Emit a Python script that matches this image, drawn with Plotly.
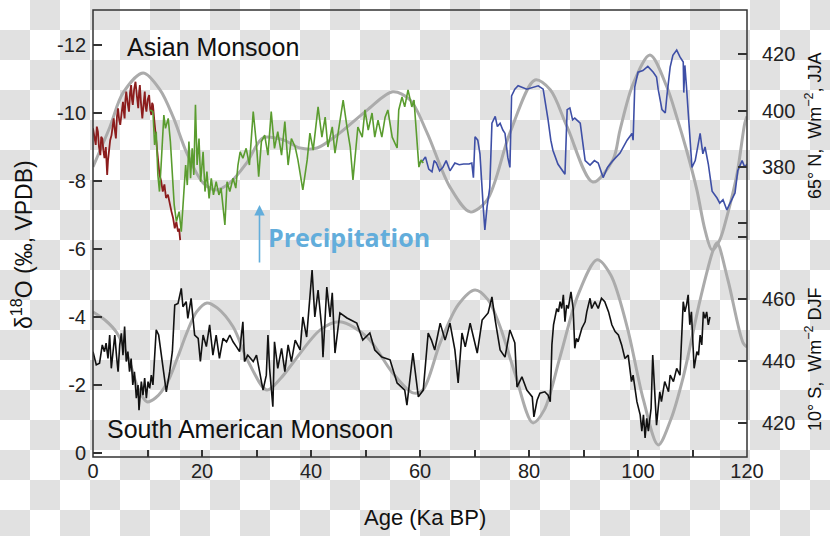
import plotly.graph_objects as go

# ---------------- data ----------------
# Asian monsoon, Holocene-deglacial record (dark red)
red_age = [0, 0.25, 0.5, 0.7, 0.9, 1.1, 1.35, 1.5, 1.7, 1.9, 2.1, 2.35, 2.6, 2.75, 2.9, 3.15, 3.4, 3.6,
           3.8, 4.0, 4.2, 4.4, 4.6, 4.8, 5.0, 5.25, 5.5, 5.65, 5.8, 5.95, 6.1, 6.35, 6.6, 6.8, 7.0, 7.15,
           7.3, 7.55, 7.8, 8.05, 8.3, 8.45, 8.6, 8.8, 9.05, 9.3, 9.5, 9.65, 9.8, 10.05, 10.3, 10.5, 10.7,
           10.85, 11.0, 11.3, 11.6, 11.9, 12.2, 12.5, 12.8, 13.1, 13.4, 13.75, 14.1, 14.4, 14.7, 15.0,
           15.3, 15.6, 15.8, 16.0]
red_d18o = [-9.55, -9.3, -9.06, -9.6, -9.45, -9.0, -8.76, -9.3, -9.25, -8.9, -8.67, -9.0, -8.18, -8.6,
            -8.86, -9.2, -9.35, -9.7, -9.84, -9.5, -9.25, -9.9, -10.14, -9.8, -9.65, -10.0, -10.33,
            -10.05, -9.84, -10.4, -10.63, -10.3, -10.04, -10.6, -10.82, -10.4, -10.24, -10.7, -10.92,
            -10.5, -10.14, -10.6, -10.82, -10.3, -9.84, -10.3, -10.63, -10.2, -10.04, -10.4, -10.53,
            -10.1, -9.94, -10.3, -10.24, -9.7, -9.16, -8.7, -8.18, -8.0, -7.69, -7.9, -7.5, -7.6, -7.30,
            -7.1, -6.91, -6.61, -6.8, -6.51, -6.6, -6.26]

# Asian monsoon, glacial record (green)
green_age = [10.5, 11.0, 11.3, 11.6, 11.9, 12.2, 12.5, 13.0, 13.3, 13.8, 14.2, 14.6, 14.9, 15.3, 15.8,
             16.2, 16.6, 17.0, 17.3, 17.6, 17.9, 18.2, 18.5, 18.8, 19.1, 19.45, 19.75, 20.2, 20.55,
             20.9, 21.3, 21.7, 22.1, 22.6, 23.1, 23.5, 24.2, 24.6, 25.1, 25.7, 26.2, 26.6, 27.0, 27.5,
             28.1, 28.7, 29.4, 30.0, 30.4, 30.9, 31.5, 32.1, 32.7, 33.3, 33.9, 34.6, 35.2, 35.8, 36.4,
             37.1, 37.6, 38.5, 39.3, 39.8, 40.4, 41.1, 41.3, 42.0, 42.6, 43.1, 43.9, 44.4, 45.0, 45.9,
             46.6, 47.2, 47.7, 48.3, 48.6, 49.4, 49.9, 50.5, 51.2, 51.7, 52.3, 53.0, 53.6, 54.1, 54.9,
             55.8, 56.1, 56.7, 57.2, 57.8, 58.5, 58.9, 59.3, 59.5, 59.8, 60.2, 60.6]
green_d18o = [-10.09, -10.04, -9.06, -9.45, -8.18, -7.69, -8.47, -9.94, -9.55, -9.84, -9.16, -8.08,
              -7.30, -6.81, -7.10, -6.51, -7.69, -8.47, -7.88, -9.16, -8.08, -8.96, -8.18, -10.24,
              -8.47, -9.25, -7.98, -8.86, -7.69, -8.28, -7.49, -8.08, -7.59, -7.98, -7.59, -7.79, -6.71,
              -7.98, -7.69, -8.08, -7.79, -8.47, -8.86, -8.67, -8.96, -8.47, -10.04, -9.06, -8.13,
              -9.16, -9.35, -8.76, -10.04, -8.96, -9.45, -8.76, -9.75, -8.47, -9.25,
              -9.0, -8.62, -7.74, -8.62, -9.41, -8.91, -10.0, -10.18, -9.29, -9.88, -9.0, -9.59, -8.82,
              -9.41, -10.38, -9.59, -9.0, -8.03, -9.0, -9.59, -9.29, -10.09, -9.5, -10.0, -9.29, -9.79,
              -9.29, -9.88, -10.09, -9.29, -8.97, -10.09, -10.47, -10.18, -10.68, -10.18, -10.38,
              -9.59, -9.0, -8.41, -8.62, -8.53]

# Asian monsoon, older record (blue)
blue_age = [59.8, 60.5, 61.0, 61.6, 62.2, 62.6, 63.0, 63.6, 64.2, 64.8, 65.5, 66.0, 66.4, 67.2, 68.0,
            69.0, 69.5, 69.8, 70.1, 70.6, 71.0, 71.6, 71.9, 72.3, 72.8, 73.2, 73.8, 74.2, 74.7, 75.2,
            75.6, 76.1, 76.5, 76.8, 77.4, 78.0, 79.6, 81.7, 82.6, 83.5, 84.0, 84.4, 85.3, 86.6, 87.0,
            87.5, 88.0, 88.4, 89.4, 90.3, 91.2, 92.0, 92.7, 93.6, 94.4, 95.4, 96.7, 98.0, 98.9, 99.1,
            99.4, 100.0, 100.9, 101.8, 102.8, 103.4, 103.7, 104.4, 105.0, 105.3, 105.9, 106.4, 107.1,
            107.7, 108.3, 108.4, 108.6, 108.9, 109.5, 109.9, 110.5, 111.0, 111.4, 111.9, 112.3, 112.9,
            113.6, 114.5, 115.0, 115.6, 116.3, 116.9, 117.8, 118.3, 119.1, 119.6, 120.0]
blue_d18o = [-8.53, -8.6, -8.71, -8.35, -8.27, -8.6, -8.53, -8.3, -8.4, -8.6, -8.3, -8.45, -8.53, -8.48,
             -8.5, -8.5, -8.53, -8.1, -9.3, -9.2, -8.8, -7.24, -6.56, -7.24, -7.8, -9.7, -9.9, -9.6, -9.7,
             -9.5, -9.4, -8.7, -8.4, -10.5, -10.7, -10.8, -10.7, -10.8, -10.7, -9.8, -9.2, -8.9, -8.5,
             -8.2, -10.1, -10.15, -9.8, -9.85, -9.7, -8.6, -8.47, -8.6, -8.53, -8.1, -8.4, -8.6, -8.82,
             -9.2, -9.4, -9.2, -10.76, -11.2, -11.25, -11.37, -11.2, -11.06, -10.7, -10.1, -10.0, -10.5,
             -11.35, -11.7, -11.85, -11.65, -11.5, -10.6, -11.4, -10.76, -9.5, -8.4, -8.6, -9.0, -9.4,
             -8.8, -9.0, -8.5, -7.7, -7.5, -7.35, -7.45, -7.15, -7.35, -7.65, -8.3, -8.6, -8.4, -8.5]

# South American monsoon record (black)
sa_age = [0, 0.6, 1.2, 1.7, 2.1, 2.4, 2.75, 3.06, 3.36, 3.7, 4.0, 4.3, 4.6, 4.9, 5.2, 5.5, 5.8, 6.1,
          6.4, 6.7, 7.0, 7.3, 7.6, 7.95, 8.26, 8.44, 8.87, 9.17, 9.48, 9.79, 10.1, 10.4, 10.7, 11.0,
          11.3, 11.6, 12.05, 12.5, 13.0, 13.45, 14.07, 14.56, 15.0, 15.6, 16.2, 16.5, 17.1, 17.4, 18.0,
          18.65, 19.3, 19.7, 20.2, 20.8, 21.4, 22.0, 22.6, 23.2, 23.85, 24.5, 25.1, 25.7, 26.3, 26.9,
          27.5, 27.8, 28.4, 29.4, 30.0, 30.6, 31.2, 31.8, 32.1, 32.4, 33.0, 33.3, 33.9, 34.6, 35.2,
          35.8, 36.4,
          37.1, 38.0, 38.5, 39.2, 40.2, 40.7, 41.3, 42.0, 42.2, 42.9, 43.5, 43.9, 44.4, 45.3, 46.6,
          48.4, 49.5, 50.8, 51.7, 53.0, 54.5, 55.8, 57.2, 57.6, 58.7, 59.7, 60.6, 61.5, 62.1, 62.7,
          63.7, 64.6, 65.5, 66.4, 67.0, 67.7, 68.3, 69.2, 70.5, 71.4, 72.5, 73.2, 73.8, 74.7, 75.6,
          76.5, 77.4, 77.8, 78.7, 79.6, 80.6, 80.9, 81.5, 82.0,
          82.9, 83.5, 83.9, 84.2, 84.5, 85.1, 85.4, 85.7, 86.0, 86.3, 86.6, 86.9, 87.2, 87.7, 88.1,
          88.4, 88.7, 89.0, 89.7, 90.3, 90.6, 91.2, 91.5, 92.1, 92.7, 93.3, 93.9, 94.6, 95.2, 95.8,
          96.4, 97.0, 97.6, 98.2, 98.8, 99.1, 99.8, 100.4, 100.7, 101.0, 101.3, 101.6, 101.9, 102.4,
          102.7, 103.1, 103.4, 103.7, 104.0, 104.3, 104.9, 105.6, 105.9, 106.5, 107.1, 107.7, 108.0,
          108.3, 108.6, 108.9, 109.2, 109.5, 109.8, 110.3, 110.8, 111.1, 111.4, 111.7, 112.0, 112.3,
          112.6, 112.9, 113.2]
sa_d18o = [-2.98, -2.59, -2.64, -3.18, -2.98, -3.23, -2.78, -3.47, -2.49, -2.98, -3.47, -2.88, -2.39,
           -3.18, -3.52, -2.88, -3.72, -2.69, -2.98, -2.39, -2.78, -2.00, -2.39, -1.61, -2.00, -1.26,
           -2.10, -1.70, -2.20, -1.61, -2.10, -1.90, -2.29, -2.00, -2.88, -3.62, -3.47, -2.88, -2.29,
           -1.80, -2.39, -2.98, -4.35, -4.40, -4.84, -4.30, -4.45, -3.96, -4.55, -3.47, -3.37, -2.69,
           -3.47, -3.13, -3.77, -2.88, -3.47, -2.78, -3.37, -3.27, -3.47, -3.27, -3.13, -2.98, -3.86,
           -2.69, -2.88, -2.69, -2.88, -2.39, -1.85, -2.29, -3.47, -2.49, -1.36, -3.27, -2.49, -3.08,
           -2.39, -3.18, -2.69,
           -3.32, -3.03, -4.0, -3.41, -5.38, -4.0, -4.79, -3.62, -2.82, -4.88, -4.0, -4.71, -2.94,
           -4.12, -3.97, -3.82, -3.32, -3.53, -3.03, -2.82, -2.74, -2.06, -1.85, -1.41, -2.94, -1.65,
           -1.85, -3.53, -3.32, -3.03, -3.82, -3.32, -3.82, -3.03, -2.06, -3.53, -3.12, -3.82, -2.94,
           -3.91, -4.12, -4.59, -3.91, -3.03, -2.82, -3.62, -3.24, -1.94, -2.24, -1.85, -1.65, -1.06,
           -1.56, -1.76,
           -1.80, -1.70, -1.51, -3.18, -3.77, -4.25, -4.15, -4.45, -4.25, -4.65, -3.86, -4.35, -4.25,
           -4.74, -4.25, -3.08, -3.37, -3.27, -3.67, -3.86, -4.15, -4.55, -4.25, -4.45, -4.25, -4.55,
           -4.45, -4.15, -3.77, -3.57, -3.47, -3.18, -2.78, -2.88, -2.10, -2.29, -1.51, -1.12, -0.64,
           -1.12, -0.44, -1.02, -0.64, -1.31, -2.88, -1.51, -0.82, -1.31, -1.80, -1.51, -2.10, -1.80,
           -2.29, -2.10, -2.49, -2.29, -3.27, -4.45, -4.15, -4.35, -4.65, -3.77, -4.15, -2.49, -2.98,
           -2.88, -3.47, -3.18, -4.15, -3.96, -4.15, -3.77, -4.0]

# Insolation 65 N, JJA (W m-2), upper grey curve
insol65_age = [0, 3.1, 5.5, 9.2, 12.3, 14.7, 17.2, 20.2, 22.6, 25.1, 28.2, 31.2, 34.9, 38.0, 41.1, 45.3,
               50.3, 55.0, 58.2, 61.3, 65.5, 69.2, 72.3, 76.5, 81.1, 83.9, 87.0, 91.7, 95.4, 96.7, 99.1,
               102.2, 105.3, 107.1, 108.9, 110.8, 112.3, 113.6, 115.0, 116.3, 118.2, 119.6, 120.0]
insol65 = [380.0, 394.2, 406.3, 413.4, 407.4, 397.8, 385.0, 374.3, 371.8, 374.3, 381.4, 390.3, 389.6,
           386.7, 386.7, 392.1, 400.2, 406.7, 403.8, 392.1, 372.8, 364.0, 368.2, 392.1, 410.9, 407.4,
           394.2, 374.6, 382.5, 393.1, 409.5, 419.8, 408.4, 397.8, 386.0, 371.8, 357.5, 350.4, 354.0,
           362.2, 377.8, 395.6, 398.0]

# Insolation 10 S, DJF (W m-2), lower grey curve
insol10_age = [0, 2.2, 4.4, 6.6, 8.4, 9.9, 11.5, 13.6, 15.5, 17.2, 19.0, 20.9, 22.8, 25.7, 28.5, 31.9,
               34.5, 36.7, 41.7, 45.3, 50.3, 55.0, 58.7, 60.5, 63.7, 67.0, 70.1, 72.5, 74.7, 77.5, 80.7,
               82.8, 85.7, 89.0, 92.5, 95.0, 98.0, 101.0, 103.7, 106.0, 108.3, 111.4, 113.8, 114.5, 116.5,
               119.3, 120.0]
insol10 = [455.8, 453.2, 449.0, 440.3, 430.6, 426.8, 428.1, 432.9, 441.0, 449.0, 455.8, 458.7, 457.1,
           451.0, 439.7, 430.6, 434.5, 439.4, 450.0, 452.6, 447.7, 436.1, 429.7, 430.6, 445.8, 458.1,
           462.9, 459.7, 451.0, 435.5, 420.0, 424.2, 441.3, 461.3, 472.6, 467.7, 451.0, 427.4, 412.9,
           421.0, 434.8, 459.7, 475.8, 478.1, 466.1, 445.8, 444.5]

# ticks
x_tickvals = [0, 20, 40, 60, 80, 100, 120]
x_minor_tickvals = [10, 30, 50, 70, 90, 110]
d18o_tickvals = [-12, -10, -8, -6, -4, -2, 0]
d18o_ticktext = ["-12", "-10", "-8", "-6", "-4", "-2", "0"]
n65_tickvals = [380, 400, 420]
n65_minor_tickvals = [360]
s10_tickvals = [420, 440, 460]
s10_minor_tickvals = [480]

# ---------------- figure ----------------
W, H = 830, 536
L, R, T, B = 93, 83, 10, 79
PW, PH = W - L - R, H - T - B

def px(x):
    return (x - L) / PW

def py(y):
    return (H - B - y) / PH

FONT = "Liberation Sans, Arial, Helvetica, sans-serif"
GREY = "#ababab"
AX = "#333333"

fig = go.Figure()
fig.add_trace(go.Scatter(x=insol65_age, y=insol65, yaxis="y", mode="lines",
                         line=dict(color=GREY, width=3, shape="spline", smoothing=0.9),
                         hoverinfo="skip", showlegend=False))
fig.add_trace(go.Scatter(x=insol10_age, y=insol10, yaxis="y2", mode="lines",
                         line=dict(color=GREY, width=3, shape="spline", smoothing=0.9),
                         hoverinfo="skip", showlegend=False))
fig.add_trace(go.Scatter(x=sa_age, y=sa_d18o, yaxis="y3", mode="lines",
                         line=dict(color="#111111", width=1.6), showlegend=False))
fig.add_trace(go.Scatter(x=blue_age, y=blue_d18o, yaxis="y3", mode="lines",
                         line=dict(color="#3e4fa6", width=1.6), showlegend=False))
fig.add_trace(go.Scatter(x=red_age, y=red_d18o, yaxis="y3", mode="lines",
                         line=dict(color="#8c1d1d", width=1.8), showlegend=False))
fig.add_trace(go.Scatter(x=green_age, y=green_d18o, yaxis="y3", mode="lines",
                         line=dict(color="#5a9c2f", width=1.6), showlegend=False))

# checkerboard background
shapes = []
for i in range(0, W // 30 + 1):
    for j in range(0, H // 30 + 1):
        if (i + j) % 2 == 1:
            shapes.append(dict(type="rect", xref="paper", yref="paper", layer="below",
                               x0=px(30 * i), x1=px(30 * i + 30),
                               y0=py(30 * j + 30), y1=py(30 * j),
                               line=dict(width=0), fillcolor="#e1e1e1"))
# plot frame
shapes.append(dict(type="rect", xref="paper", yref="paper", x0=0, x1=1, y0=0, y1=1,
                   line=dict(color=AX, width=1.5), layer="above"))

tickfont = dict(family=FONT, size=20, color="#222222")

annotations = [
    dict(text="Asian Monsoon", x=px(125), y=py(47), xref="paper", yref="paper",
         xanchor="left", yanchor="middle", showarrow=False,
         font=dict(family=FONT, size=25, color="#111111")),
    dict(text="South American Monsoon", x=px(105), y=py(429), xref="paper", yref="paper",
         xanchor="left", yanchor="middle", showarrow=False,
         font=dict(family=FONT, size=25, color="#111111")),
    dict(text="<b>Precipitation</b>", x=px(266), y=py(237), xref="paper", yref="paper",
         xanchor="left", yanchor="middle", showarrow=False,
         font=dict(family="Open Sans, sans-serif", size=25, color="#62addb")),
    dict(text="", x=px(259.5), y=py(205), ax=0, ay=59, xref="paper", yref="paper",
         axref="pixel", ayref="pixel", showarrow=True, arrowhead=2, arrowsize=1.3,
         arrowwidth=1.6, arrowcolor="#62addb", standoff=0, startstandoff=0),
    dict(text="δ<sup>18</sup>O (‰, VPDB)", x=px(22), y=py(245), xref="paper", yref="paper",
         textangle=-90, xanchor="center", yanchor="middle", showarrow=False,
         font=dict(family=FONT, size=23, color="#111111")),
    dict(text="65° N,  Wm<sup>−2</sup>, JJA", x=px(813), y=py(126), xref="paper", yref="paper",
         textangle=-90, xanchor="center", yanchor="middle", showarrow=False,
         font=dict(family=FONT, size=18, color="#111111")),
    dict(text="10° S,  Wm<sup>−2</sup> DJF", x=px(813), y=py(359), xref="paper", yref="paper",
         textangle=-90, xanchor="center", yanchor="middle", showarrow=False,
         font=dict(family=FONT, size=18, color="#111111")),
    dict(text="Age (Ka BP)", x=px(425), y=py(517), xref="paper", yref="paper",
         xanchor="center", yanchor="middle", showarrow=False,
         font=dict(family=FONT, size=22, color="#111111")),
]

tick_common = dict(ticks="inside", ticklen=9, tickwidth=1.5, tickcolor=AX)

fig.update_layout(
    width=W, height=H, margin=dict(l=L, r=R, t=T, b=B, pad=0, autoexpand=False),
    paper_bgcolor="white", plot_bgcolor="rgba(0,0,0,0)",
    shapes=shapes, annotations=annotations, showlegend=False,
    xaxis=dict(range=[0, 120], showgrid=False, zeroline=False, showline=False, automargin=False,
               ticks="inside", ticklen=7, tickwidth=1.5, tickcolor=AX,
               tickvals=x_tickvals, tickfont=tickfont,
               minor=dict(tickvals=x_minor_tickvals, ticks="inside", ticklen=7, tickwidth=1.5,
                          tickcolor=AX, showgrid=False)),
    yaxis=dict(range=[276.8, 435.8], side="right", showgrid=False, zeroline=False, showline=False,
               automargin=False, tickvals=n65_tickvals, tickfont=tickfont,
               ticklabelstandoff=14, minor=dict(tickvals=n65_minor_tickvals, showgrid=False,
                                                **tick_common),
               **tick_common),
    yaxis2=dict(range=[409.0, 553.2], side="right", overlaying="y", showgrid=False, zeroline=False,
                showline=False, automargin=False, tickvals=s10_tickvals, tickfont=tickfont,
                ticklabelstandoff=14, minor=dict(tickvals=s10_minor_tickvals, showgrid=False,
                                                 **tick_common),
                **tick_common),
    yaxis3=dict(range=[0.118, -13.03], side="left", overlaying="y", showgrid=False, zeroline=False,
                showline=False, automargin=False, tickvals=d18o_tickvals, ticktext=d18o_ticktext,
                tickfont=tickfont, ticklabelstandoff=6, **tick_common),
)

fig.write_html("out.html", config={"displayModeBar": False},
               post_script="document.body.style.margin='0px';")
